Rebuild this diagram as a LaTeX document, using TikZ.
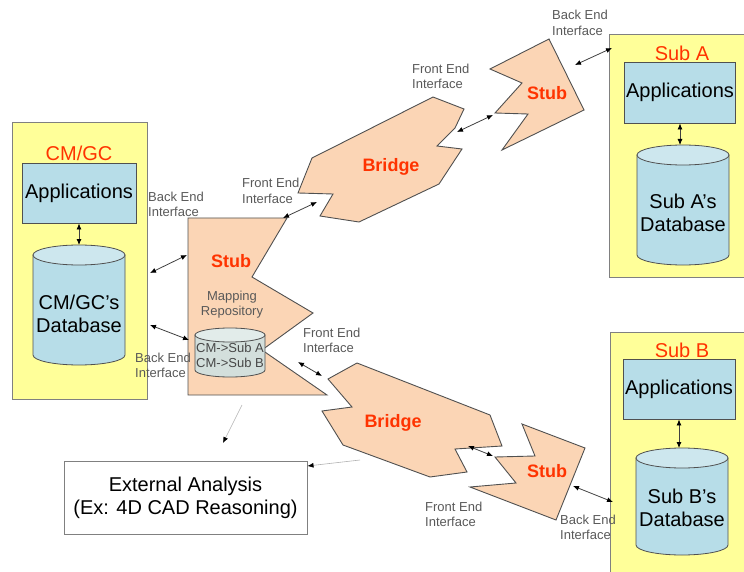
\documentclass[tikz,border=0pt]{standalone}
\usepackage{fontspec}
\setmainfont{Liberation Sans}
\usetikzlibrary{arrows.meta}
\definecolor{subyellow}{HTML}{FFFF99}
\definecolor{appblue}{HTML}{B7DDE8}
\definecolor{cyltop}{HTML}{CDE7EE}
\definecolor{peach}{HTML}{FBD5B5}
\definecolor{redtxt}{HTML}{FF3300}
\definecolor{lblgray}{HTML}{595959}
\definecolor{mapfill}{HTML}{D3DFDC}
\definecolor{maptop}{HTML}{E2ECEA}
\definecolor{edgegray}{HTML}{505050}
\definecolor{boxgray}{HTML}{808080}
\newcommand\dbcyl[7]{%
 \filldraw[cylline, fill=#6] (#1-#4,#2) -- (#1-#4,#3) arc[start angle=180,end angle=0,x radius=#4,y radius=#5] -- (#1+#4,#2) -- cycle;
 \filldraw[cylline, fill=#7] (#1,#2) ellipse[x radius=#4,y radius=#5];}
\tikzset{
 cylline/.style={draw=edgegray, line width=0.8pt},
 yellowbox/.style={fill=subyellow, draw=boxgray, line width=1pt, inner sep=0pt},
 appbox/.style={fill=appblue, draw=edgegray, line width=0.9pt, inner sep=0pt, font=\fontsize{20}{23}\selectfont},
 bigtxt/.style={font=\fontsize{20}{23}\selectfont, align=center, inner sep=0pt},
 redtitle/.style={font=\fontsize{20}{23}\selectfont, text=redtxt, inner sep=0pt},
 boldred/.style={font=\fontsize{18}{21}\bfseries\selectfont, text=redtxt, inner sep=0pt},
 lbl/.style={font=\fontsize{13}{15.5}\selectfont, text=lblgray, align=left, anchor=west, inner sep=0pt},
 smalltxt/.style={font=\fontsize{13}{15}\selectfont, text=lblgray, align=center, inner sep=0pt},
 shapeline/.style={fill=peach, draw=edgegray, line width=0.9pt, line join=miter},
 biarrow/.style={{Latex[length=6pt,width=5pt,black]}-{Latex[length=6pt,width=5pt,black]}, line width=0.8pt, draw=black!75},
 grayarrow/.style={-{Latex[length=6pt,width=5pt,black]}, line width=0.6pt, draw=gray!60},
}
\begin{document}
\begin{tikzpicture}[x=1pt,y=-1pt]
\useasboundingbox (0,0) rectangle (744,572);
% ---------------- containers ----------------
\node[yellowbox, minimum width=135pt, minimum height=276pt] (cmgc) at (79.5,261) {};
\node[redtitle] (cmgct) at (79,153) {CM/GC};
\node[appbox, minimum width=114pt, minimum height=60pt] (app1) at (79,193) {Applications};
\dbcyl{79}{255}{355}{46}{10}{appblue}{cyltop}
\node[bigtxt] (db1) at (79,314) {CM/GC’s\\Database};
\coordinate (db1top) at (79,245);
\draw[biarrow] (app1.south) -- (db1top);

\node[yellowbox, minimum width=141pt, minimum height=242pt] (suba) at (679.5,156) {};
\node[redtitle] (subat) at (682,53) {Sub A};
\node[appbox, minimum width=111pt, minimum height=61pt] (appa) at (680,92.5) {Applications};
\dbcyl{683}{155}{255}{46}{10}{appblue}{cyltop}
\node[bigtxt] (dba) at (683,213) {Sub A’s\\Database};
\coordinate (dbatop) at (680,145);
\draw[biarrow] (appa.south) -- (dbatop);

\node[yellowbox, minimum width=140pt, minimum height=248pt] (subb) at (680,456) {};
\node[redtitle] (subbt) at (682,350) {Sub B};
\node[appbox, minimum width=112pt, minimum height=60pt] (appb) at (679,389) {Applications};
\dbcyl{682}{458}{545}{46}{10}{appblue}{cyltop}
\node[bigtxt] (dbb) at (682,508) {Sub B’s\\Database};
\coordinate (dbbtop) at (679,448);
\draw[biarrow] (appb.south) -- (dbbtop);

\node[draw=boxgray, line width=1pt, minimum width=243pt, minimum height=73pt, bigtxt] (ext) at (185.5,497.5) {External Analysis\\(Ex: 4D CAD Reasoning)};

% ---------------- left stub ----------------
\filldraw[shapeline] (188,218) -- (287,218) -- (252,277) -- (313,313) -- (262,350) -- (327,395) -- (188,395) -- cycle;
\node[boldred] (stub1) at (231,261) {Stub};
\node[smalltxt] (map) at (232,305) {Mapping\\Repository};
\dbcyl{230}{335}{370}{35}{7}{mapfill}{maptop}
\node[smalltxt, text=lblgray!80!black] (mapt) at (230,355) {CM->Sub A\\CM->Sub B};

% ---------------- upper bridge and stub ----------------
\filldraw[shapeline] (433,97) -- (464,109) -- (455,128) -- (437,146) -- (462,149) -- (439,184) -- (359,222) -- (320,216) -- (333,194) -- (298,193) -- (312,158) -- cycle;
\node[boldred] (bridge1) at (391,167) {Bridge};
\filldraw[shapeline] (490,69) -- (522,83) -- (495,113) -- (528,114) -- (502,150) -- (584,110) -- (549,39) -- cycle;
\node[boldred] (stuba) at (547,93) {Stub};

% ---------------- lower bridge and stub ----------------
\filldraw[shapeline] (328,379) -- (357,363) -- (490,415) -- (502,446) -- (455,449) -- (467,472) -- (430,477) -- (343,445) -- (322,411) -- (352,407) -- cycle;
\node[boldred] (bridge2) at (393,423) {Bridge};
\filldraw[shapeline] (522,424) -- (585,448) -- (556,520) -- (470,487) -- (516,483) -- (495,457) -- (535,456) -- cycle;
\node[boldred] (stubb) at (547,471) {Stub};

% ---------------- connectors ----------------
\coordinate (a1) at (150,273); \coordinate (a2) at (187,255);
\draw[biarrow] (a1) -- (a2);
\coordinate (b1) at (150,325); \coordinate (b2) at (189,340);
\draw[biarrow] (b1) -- (b2);
\coordinate (c1) at (283,218); \coordinate (c2) at (317,202);
\draw[biarrow] (c1) -- (c2);
\coordinate (d1) at (298,362); \coordinate (d2) at (322,376);
\draw[biarrow] (d1) -- (d2);
\coordinate (e1) at (457,132); \coordinate (e2) at (493,115);
\draw[biarrow] (e1) -- (e2);
\coordinate (f1) at (575,65); \coordinate (f2) at (612,48);
\draw[biarrow] (f1) -- (f2);
\coordinate (g1) at (468,446); \coordinate (g2) at (493,456);
\draw[biarrow] (g1) -- (g2);
\coordinate (h1) at (573,486); \coordinate (h2) at (613,502);
\draw[biarrow] (h1) -- (h2);
\coordinate (x1) at (242,405); \coordinate (x2) at (223,443);
\draw[grayarrow] (x1) -- (x2);
\coordinate (y1) at (360,460);
\draw[grayarrow] (y1) -- (ext.east |- 0,466);

% ---------------- interface labels ----------------
\node[lbl] (be1) at (148,204.5) {Back End\\Interface};
\node[lbl] (be2) at (135,365.5) {Back End\\Interface};
\node[lbl] (fe1) at (242,191) {Front End\\Interface};
\node[lbl] (fe2) at (303,340.5) {Front End\\Interface};
\node[lbl] (fe3) at (412,76.5) {Front End\\Interface};
\node[lbl] (be3) at (552,23) {Back End\\Interface};
\node[lbl] (fe4) at (425,514.5) {Front End\\Interface};
\node[lbl] (be4) at (560,527.5) {Back End\\Interface};
\end{tikzpicture}
\end{document}
